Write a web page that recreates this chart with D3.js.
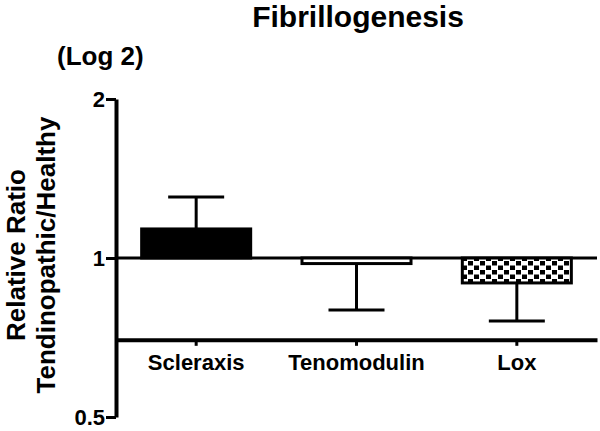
<!DOCTYPE html>
<html>
<head>
<meta charset="utf-8">
<script src="https://cdn.jsdelivr.net/npm/d3@7"></script>
<style>
  body { margin: 0; background: #fff; }
  text { font-family: "Liberation Sans", Arial, Helvetica, sans-serif; font-weight: bold; fill: #000; }
</style>
</head>
<body>
<svg width="600" height="431"></svg>
<script>
// data (relative ratio, log2 axis)
var genes = ["Scleraxis", "Tenomodulin", "Lox"];
var ratios = [1.135, 0.976, 0.897];
var errEnds = [1.305, 0.797, 0.76];
var fills = ["solid", "white", "checker"];
var yTicks = [0.5, 1, 2];

var svg = d3.select("svg");

var defs = svg.append("defs");
var pat = defs.append("pattern")
    .attr("id", "checker")
    .attr("patternUnits", "userSpaceOnUse")
    .attr("width", 12).attr("height", 9);
pat.append("rect").attr("width", 12).attr("height", 9).attr("fill", "#fff");
pat.append("rect").attr("x", 0).attr("y", 0).attr("width", 5).attr("height", 4.5).attr("fill", "#000");
pat.append("rect").attr("x", 6).attr("y", 4.5).attr("width", 5).attr("height", 4.5).attr("fill", "#000");

var y = d3.scaleLog().base(2).domain([0.5, 2]).range([417, 99]);
var x = d3.scaleBand().domain(genes).range([116, 597]).paddingInner(0.32).paddingOuter(0.16);
var xAxisAt = 0.7;

// baseline at ratio 1
svg.append("line")
    .attr("x1", 116).attr("x2", 597)
    .attr("y1", y(1)).attr("y2", y(1))
    .attr("stroke", "#000").attr("stroke-width", 3);

// bars
svg.selectAll(".bar")
    .data(genes)
  .enter().append("rect")
    .attr("class", "bar")
    .attr("x", function(d) { return x(d); })
    .attr("width", x.bandwidth())
    .attr("y", function(d, i) { return Math.min(y(1), y(ratios[i])); })
    .attr("height", function(d, i) { return Math.abs(y(1) - y(ratios[i])); })
    .attr("fill", function(d, i) {
      if (fills[i] == "solid") return "#000";
      if (fills[i] == "checker") return "url(#checker)";
      return "#fff";
    })
    .attr("stroke", "#000").attr("stroke-width", 3);

// error bars
var eb = svg.selectAll(".err").data(genes).enter().append("g").attr("class", "err")
    .attr("stroke", "#000").attr("stroke-width", 3);
eb.append("line")
    .attr("x1", function(d) { return x(d) + x.bandwidth() / 2; })
    .attr("x2", function(d) { return x(d) + x.bandwidth() / 2; })
    .attr("y1", function(d, i) { return y(ratios[i]); })
    .attr("y2", function(d, i) { return y(errEnds[i]); });
eb.append("line")
    .attr("x1", function(d) { return x(d) + x.bandwidth() / 2 - 28; })
    .attr("x2", function(d) { return x(d) + x.bandwidth() / 2 + 28; })
    .attr("y1", function(d, i) { return y(errEnds[i]); })
    .attr("y2", function(d, i) { return y(errEnds[i]); });

// y axis (labels drawn separately so they can be bigger)
var yAxis = svg.append("g")
    .attr("transform", "translate(116,0)")
    .call(d3.axisLeft(y).tickValues(yTicks).tickFormat("").tickSize(10).tickSizeOuter(0));
yAxis.select(".domain").attr("stroke-width", 4);
yAxis.selectAll(".tick line").attr("stroke-width", 3);

svg.selectAll(".ylab")
    .data(yTicks)
  .enter().append("text")
    .attr("class", "ylab")
    .attr("x", 105)
    .attr("y", function(d) { return y(d); })
    .attr("dy", "0.36em")
    .attr("text-anchor", "end")
    .attr("font-size", 22)
    .text(function(d) { return d; });

// x axis (offset)
var xAxis = svg.append("g")
    .attr("transform", "translate(0," + y(xAxisAt) + ")")
    .call(d3.axisBottom(x).tickSize(6).tickSizeOuter(0).tickPadding(9));
xAxis.select(".domain").attr("stroke-width", 4);
xAxis.selectAll(".tick line").attr("stroke-width", 3);
xAxis.selectAll(".tick text").style("font-size", "22px");

// titles
svg.append("text")
    .attr("x", 358).attr("y", 27)
    .attr("text-anchor", "middle")
    .style("font-size", "30px")
    .text("Fibrillogenesis");

svg.append("text")
    .attr("x", 57).attr("y", 65)
    .style("font-size", "26px")
    .text("(Log 2)");

var yl = svg.append("g").attr("transform", "translate(0,255) rotate(-90)");
yl.append("text")
    .attr("x", 0).attr("y", 25)
    .attr("text-anchor", "middle")
    .style("font-size", "26px")
    .text("Relative Ratio");
yl.append("text")
    .attr("x", 0).attr("y", 55)
    .attr("text-anchor", "middle")
    .style("font-size", "26px")
    .text("Tendinopathic/Healthy");
</script>
</body>
</html>
